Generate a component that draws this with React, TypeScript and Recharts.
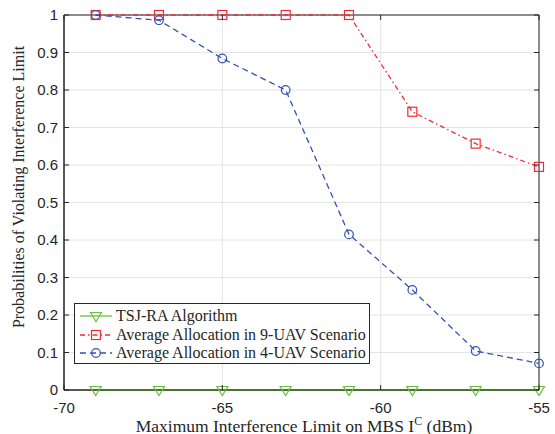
import React from "react"
import {
  LineChart,
  Line,
  XAxis,
  YAxis,
  CartesianGrid,
  Legend,
  ReferenceArea,
} from "recharts"

// ============ Data ============
const interferenceLimits = [-69, -67, -65, -63, -61, -59, -57, -55]
const tsjRa = [0, 0, 0, 0, 0, 0, 0, 0]
const avg9Uav = [1, 1, 1, 1, 1, 0.742, 0.657, 0.595]
const avg4Uav = [1, 0.986, 0.884, 0.8, 0.415, 0.267, 0.104, 0.071]

const xTicks = [-70, -65, -60, -55]
const yTicks = [0, 0.1, 0.2, 0.3, 0.4, 0.5, 0.6, 0.7, 0.8, 0.9, 1]

const data = interferenceLimits.map((x, i) => ({
  x,
  tsj: tsjRa[i],
  avg9: avg9Uav[i],
  avg4: avg4Uav[i],
}))

// ============ Layout ============
const W = 555
const H = 434
const PLOT_LEFT = 64
const PLOT_RIGHT = 539
const PLOT_TOP = 15
const PLOT_BOTTOM = 390

const AXIS = "#262626"
const GREEN = "#6cbf45"
const RED = "#ee2c36"
const BLUE = "#3352b0"
const SERIF = "'Liberation Serif', 'Times New Roman', serif"
const SANS = "'Liberation Sans', Arial, sans-serif"

// ============ Markers ============
const Square = (color: string) => (p: any) => (
  <rect
    key={`s-${p.index}`}
    x={p.cx - 4.5}
    y={p.cy - 4.5}
    width={9}
    height={9}
    fill="none"
    stroke={color}
    strokeWidth={1.2}
  />
)

const Circle = (color: string) => (p: any) => (
  <circle
    key={`c-${p.index}`}
    cx={p.cx}
    cy={p.cy}
    r={4.3}
    fill="none"
    stroke={color}
    strokeWidth={1.2}
  />
)

const Triangle = (color: string) => (p: any) => (
  <path
    key={`t-${p.index}`}
    d={`M${p.cx - 5.5},${p.cy - 3.5} L${p.cx + 5.5},${p.cy - 3.5} L${p.cx},${p.cy + 5.5} Z`}
    fill="none"
    stroke={color}
    strokeWidth={1.2}
  />
)

// ============ Ticks (MATLAB style, inward) ============
const XTick = ({ x, y, payload }: any) => (
  <g>
    <line x1={x} y1={PLOT_BOTTOM} x2={x} y2={PLOT_BOTTOM - 5} stroke={AXIS} />
    <line x1={x} y1={PLOT_TOP} x2={x} y2={PLOT_TOP + 5} stroke={AXIS} />
    <text
      x={x}
      y={y + 22.5}
      textAnchor="middle"
      fontFamily={SANS}
      fontSize={15}
      fill={AXIS}
    >
      {payload.value}
    </text>
  </g>
)

const YTick = ({ x, y, payload }: any) => (
  <g>
    <line x1={PLOT_LEFT} y1={y} x2={PLOT_LEFT + 5} y2={y} stroke={AXIS} />
    <line x1={PLOT_RIGHT} y1={y} x2={PLOT_RIGHT - 5} y2={y} stroke={AXIS} />
    <text
      x={x - 6}
      y={y + 5}
      textAnchor="end"
      fontFamily={SANS}
      fontSize={15}
      fill={AXIS}
    >
      {payload.value}
    </text>
  </g>
)

// ============ Legend ============
const legendItems = [
  { name: "TSJ-RA Algorithm", color: GREEN, dash: undefined, marker: "tri" },
  { name: "Average Allocation in 9-UAV Scenario", color: RED, dash: "5 3 1.5 3", marker: "sq" },
  { name: "Average Allocation in 4-UAV Scenario", color: BLUE, dash: "6 4", marker: "circ" },
]

const LegendBox = () => (
  <div
    style={{
      width: 296,
      height: 61,
      boxSizing: "border-box",
      border: `1px solid ${AXIS}`,
      background: "#fff",
      padding: "3px 0 0 4px",
      overflow: "hidden",
      whiteSpace: "nowrap",
      fontFamily: SERIF,
      fontSize: 16,
      color: AXIS,
    }}
  >
    {legendItems.map((d) => (
      <div key={d.name} style={{ display: "flex", alignItems: "center", height: 18.5 }}>
        <svg width={34} height={18} style={{ marginRight: 3, flexShrink: 0 }}>
          <line x1={1} y1={9} x2={33} y2={9} stroke={d.color} strokeWidth={1.3} strokeDasharray={d.dash} />
          {d.marker === "tri" && Triangle(d.color)({ cx: 17, cy: 9, index: 0 })}
          {d.marker === "sq" && Square(d.color)({ cx: 17, cy: 9, index: 0 })}
          {d.marker === "circ" && Circle(d.color)({ cx: 17, cy: 9, index: 0 })}
        </svg>
        <span>{d.name}</span>
      </div>
    ))}
  </div>
)

export default function App() {
  return (
    <div style={{ position: "absolute", left: 0, top: 0, width: W, height: H, background: "#fff" }}>
      <LineChart
        width={W}
        height={H}
        data={data}
        margin={{ top: PLOT_TOP, right: W - PLOT_RIGHT, left: 0, bottom: 0 }}
      >
        <CartesianGrid stroke="#e4e4e4" strokeWidth={1} />
        <XAxis
          dataKey="x"
          type="number"
          domain={[-70, -55]}
          ticks={xTicks}
          height={H - PLOT_BOTTOM}
          tickSize={0}
          tickMargin={0}
          tickLine={false}
          axisLine={{ stroke: AXIS }}
          tick={<XTick />}
          label={{
            content: () => (
              <text x={304} y={431.5} textAnchor="middle" fontFamily={SERIF} fontSize={17.5} fill={AXIS}>
                Maximum Interference Limit on MBS I
                <tspan dy={-7} fontSize={12}>C</tspan>
                <tspan dy={7}> (dBm)</tspan>
              </text>
            ),
          }}
        />
        <YAxis
          type="number"
          domain={[0, 1]}
          ticks={yTicks}
          width={PLOT_LEFT}
          tickSize={0}
          tickMargin={0}
          tickLine={false}
          axisLine={{ stroke: AXIS }}
          tick={<YTick />}
          label={{
            content: () => (
              <text
                x={24}
                y={187}
                transform="rotate(-90 24 187)"
                textAnchor="middle"
                fontFamily={SERIF}
                fontSize={16}
                fill={AXIS}
              >
                Probabilities of Violating Interference Limit
              </text>
            ),
          }}
        />
        <ReferenceArea x1={-70} x2={-55} y1={0} y2={1} fill="none" stroke={AXIS} strokeOpacity={1} fillOpacity={0} />
        <Line
          dataKey="avg9"
          stroke={RED}
          strokeWidth={1.3}
          strokeDasharray="5 3 1.5 3"
          dot={Square(RED)}
          activeDot={false}
          isAnimationActive={false}
        />
        <Line
          dataKey="avg4"
          stroke={BLUE}
          strokeWidth={1.3}
          strokeDasharray="6 4"
          dot={Circle(BLUE)}
          activeDot={false}
          isAnimationActive={false}
        />
        <Line
          dataKey="tsj"
          stroke={GREEN}
          strokeWidth={2}
          dot={Triangle(GREEN)}
          activeDot={false}
          isAnimationActive={false}
        />
        <Legend
          layout="vertical"
          align="center"
          verticalAlign="middle"
          content={<LegendBox />}
          wrapperStyle={{ left: 74, top: 303, width: "auto" }}
        />
      </LineChart>
    </div>
  )
}
